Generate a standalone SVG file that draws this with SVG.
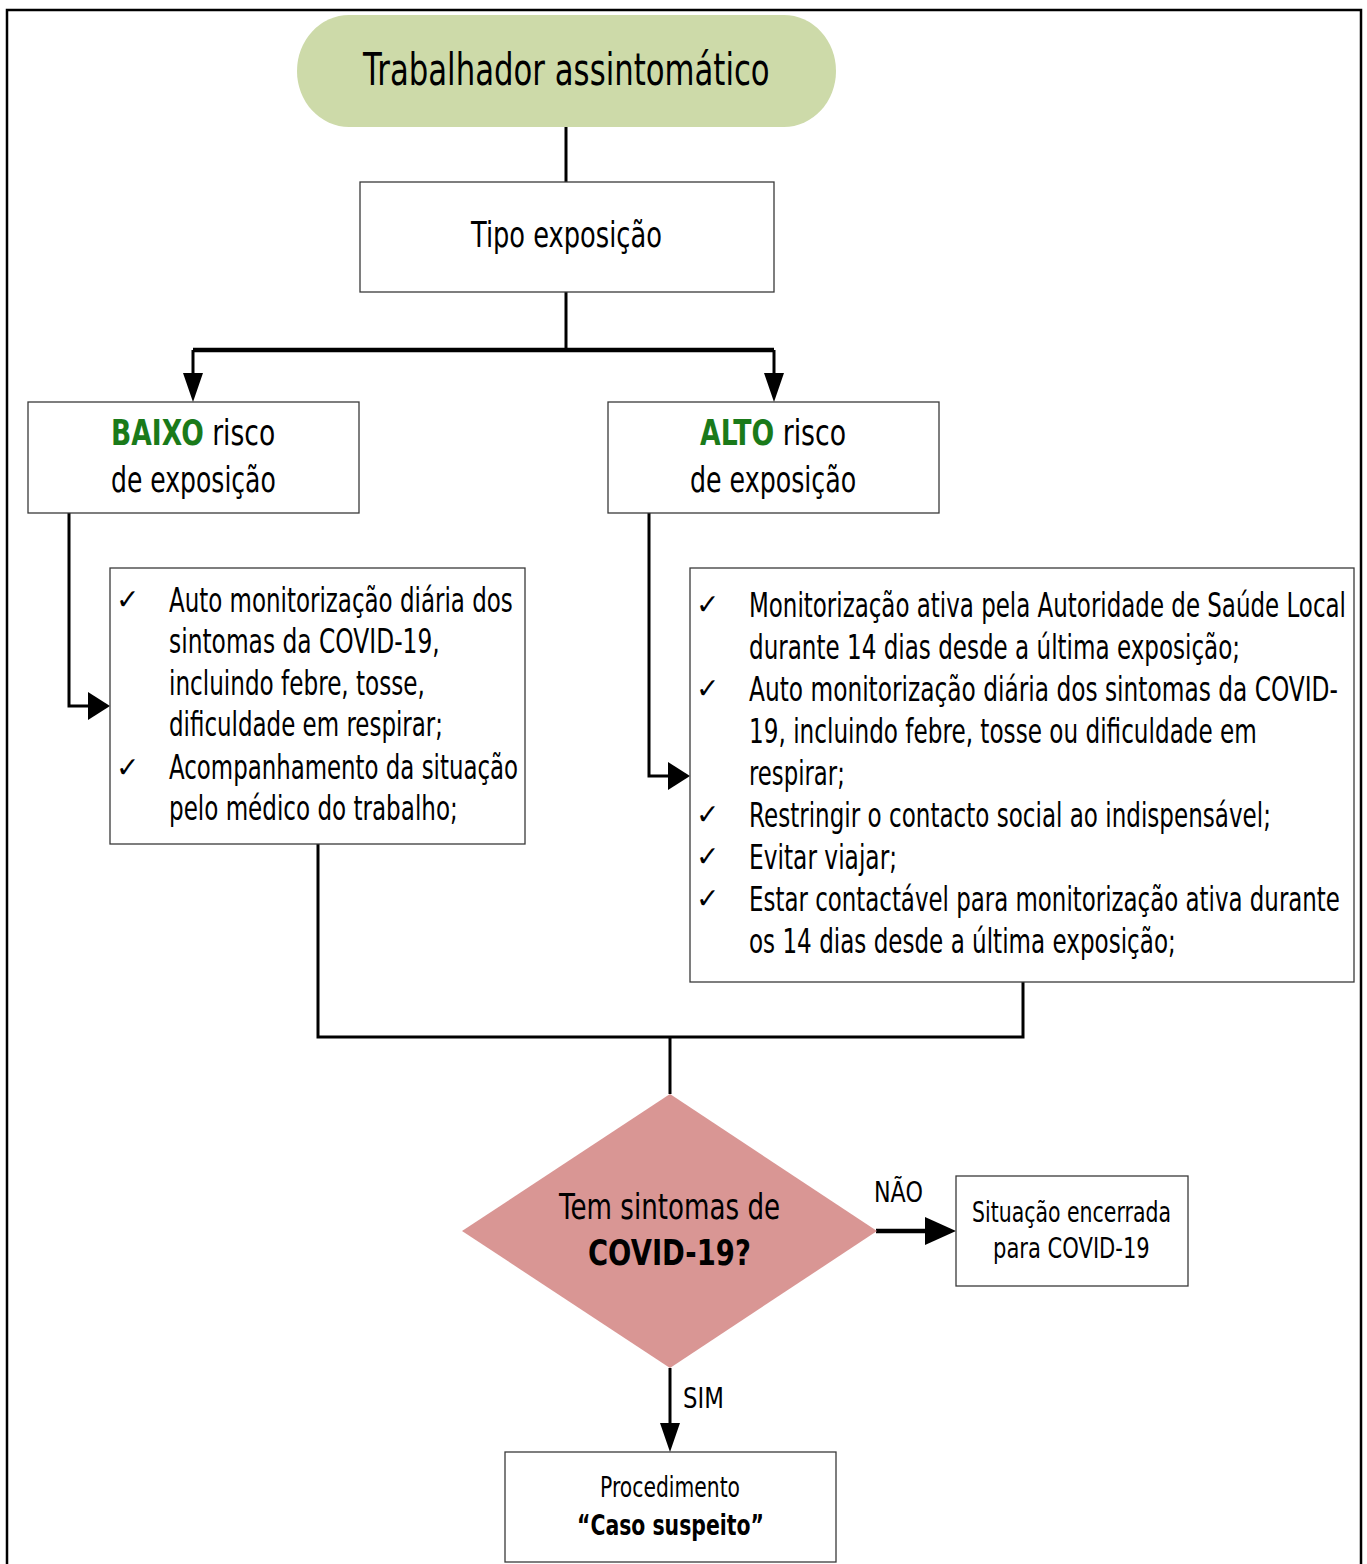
<svg xmlns="http://www.w3.org/2000/svg" width="1367" height="1564" viewBox="0 0 1367 1564">
<style>
.t{font-family:"DejaVu Sans","Liberation Sans",sans-serif;fill:#000;}
.b{font-weight:bold;}
.g{fill:#1a7a1a;}
.box{fill:#fff;stroke:#3a3a3a;stroke-width:1.3;}
.c{fill:none;stroke:#000;stroke-width:3;stroke-linejoin:miter;}
.cb{fill:none;stroke:#000;stroke-width:4.5;}
.ah{fill:#000;stroke:none;}
.ck{font-family:"DejaVu Sans",sans-serif;font-size:28px;fill:#000;}
.l{font-size:34px;}
</style>
<rect width="1367" height="1564" fill="#fff"/>
<rect id="frame" x="7" y="10" width="1354" height="1570" fill="none" stroke="#000" stroke-width="2.5"/>

<g id="connectors">
  <path class="c" d="M566 127V182"/>
  <path class="c" d="M566 292V350"/>
  <path class="cb" d="M193 350H774"/>
  <path class="c" d="M193 350V375"/>
  <path class="c" d="M774 350V375"/>
  <polygon class="ah" points="183,373 203,373 193,402"/>
  <polygon class="ah" points="764,373 784,373 774,402"/>
  <path class="c" d="M69 513V706H90"/>
  <polygon class="ah" points="88,692 110,706 88,720"/>
  <path class="c" d="M649 513V776H670"/>
  <polygon class="ah" points="668,762 690,776 668,790"/>
  <path class="c" d="M318 844V1037H1023V982"/>
  <path class="c" d="M670 1037V1094"/>
  <path class="cb" d="M876 1231H928"/>
  <polygon class="ah" points="925,1217 956,1231 925,1245"/>
  <path class="c" d="M670 1368V1425"/>
  <polygon class="ah" points="660,1423 680,1423 670,1452"/>
  <text class="t" transform="translate(874,1202) scale(0.67,1)" font-size="28" textLength="73" lengthAdjust="spacingAndGlyphs">NÃO</text>
  <text class="t" transform="translate(683,1408) scale(0.67,1)" font-size="28" textLength="61" lengthAdjust="spacingAndGlyphs">SIM</text>
</g>

<g id="n-start">
  <rect x="297" y="15" width="539" height="112" rx="52" ry="56" fill="#cddaa9"/>
  <text class="t" transform="translate(363,85) scale(0.67,1)" font-size="44" textLength="607" lengthAdjust="spacingAndGlyphs">Trabalhador assintomático</text>
</g>

<g id="n-tipo">
  <rect class="box" x="360" y="182" width="414" height="110"/>
  <text class="t" transform="translate(471,247) scale(0.67,1)" font-size="36" textLength="285" lengthAdjust="spacingAndGlyphs">Tipo exposição</text>
</g>

<g id="n-baixo">
  <rect class="box" x="28" y="402" width="331" height="111"/>
  <text class="t" transform="translate(111,445) scale(0.67,1)" font-size="36" textLength="245" lengthAdjust="spacingAndGlyphs"><tspan class="b g">BAIXO</tspan> risco</text>
  <text class="t" transform="translate(111,492) scale(0.67,1)" font-size="36" textLength="246" lengthAdjust="spacingAndGlyphs">de exposição</text>
</g>

<g id="n-alto">
  <rect class="box" x="608" y="402" width="331" height="111"/>
  <text class="t" transform="translate(700,445) scale(0.67,1)" font-size="36" textLength="218" lengthAdjust="spacingAndGlyphs"><tspan class="b g">ALTO</tspan> risco</text>
  <text class="t" transform="translate(690,492) scale(0.67,1)" font-size="36" textLength="248" lengthAdjust="spacingAndGlyphs">de exposição</text>
</g>

<g id="n-baixo-list">
  <rect class="box" x="110" y="568" width="415" height="276"/>
  <text class="ck" x="116" y="609">✓</text>
  <text class="ck" x="116" y="777">✓</text>
  <text class="t l" transform="translate(169,612) scale(0.67,1)" textLength="513" lengthAdjust="spacingAndGlyphs">Auto monitorização diária dos</text>
  <text class="t l" transform="translate(169,653) scale(0.67,1)" textLength="404" lengthAdjust="spacingAndGlyphs">sintomas da COVID-19,</text>
  <text class="t l" transform="translate(169,695) scale(0.67,1)" textLength="382" lengthAdjust="spacingAndGlyphs">incluindo febre, tosse,</text>
  <text class="t l" transform="translate(169,736) scale(0.67,1)" textLength="409" lengthAdjust="spacingAndGlyphs">dificuldade em respirar;</text>
  <text class="t l" transform="translate(169,779) scale(0.67,1)" textLength="521" lengthAdjust="spacingAndGlyphs">Acompanhamento da situação</text>
  <text class="t l" transform="translate(169,820) scale(0.67,1)" textLength="431" lengthAdjust="spacingAndGlyphs">pelo médico do trabalho;</text>
</g>

<g id="n-alto-list">
  <rect class="box" x="690" y="568" width="664" height="414"/>
  <text class="ck" x="696" y="614">✓</text>
  <text class="ck" x="696" y="698">✓</text>
  <text class="ck" x="696" y="824">✓</text>
  <text class="ck" x="696" y="866">✓</text>
  <text class="ck" x="696" y="908">✓</text>
  <text class="t l" transform="translate(749,617) scale(0.67,1)" textLength="891" lengthAdjust="spacingAndGlyphs">Monitorização ativa pela Autoridade de Saúde Local</text>
  <text class="t l" transform="translate(749,659) scale(0.67,1)" textLength="733" lengthAdjust="spacingAndGlyphs">durante 14 dias desde a última exposição;</text>
  <text class="t l" transform="translate(749,701) scale(0.67,1)" textLength="879" lengthAdjust="spacingAndGlyphs">Auto monitorização diária dos sintomas da COVID-</text>
  <text class="t l" transform="translate(749,743) scale(0.67,1)" textLength="758" lengthAdjust="spacingAndGlyphs">19, incluindo febre, tosse ou dificuldade em</text>
  <text class="t l" transform="translate(749,785) scale(0.67,1)" textLength="143" lengthAdjust="spacingAndGlyphs">respirar;</text>
  <text class="t l" transform="translate(749,827) scale(0.67,1)" textLength="779" lengthAdjust="spacingAndGlyphs">Restringir o contacto social ao indispensável;</text>
  <text class="t l" transform="translate(749,869) scale(0.67,1)" textLength="221" lengthAdjust="spacingAndGlyphs">Evitar viajar;</text>
  <text class="t l" transform="translate(749,911) scale(0.67,1)" textLength="882" lengthAdjust="spacingAndGlyphs">Estar contactável para monitorização ativa durante</text>
  <text class="t l" transform="translate(749,953) scale(0.67,1)" textLength="637" lengthAdjust="spacingAndGlyphs">os 14 dias desde a última exposição;</text>
</g>

<g id="n-decision">
  <polygon points="670,1094 877,1231 670,1368 462,1231" fill="#d99694"/>
  <text class="t" transform="translate(559,1219) scale(0.67,1)" font-size="35" textLength="330" lengthAdjust="spacingAndGlyphs">Tem sintomas de</text>
  <text class="t b" transform="translate(588,1265) scale(0.67,1)" font-size="35" textLength="243" lengthAdjust="spacingAndGlyphs">COVID-19?</text>
</g>

<g id="n-encerrada">
  <rect class="box" x="956" y="1176" width="232" height="110"/>
  <text class="t" transform="translate(972,1222) scale(0.67,1)" font-size="28" textLength="297" lengthAdjust="spacingAndGlyphs">Situação encerrada</text>
  <text class="t" transform="translate(993,1258) scale(0.67,1)" font-size="28" textLength="234" lengthAdjust="spacingAndGlyphs">para COVID-19</text>
</g>

<g id="n-caso">
  <rect class="box" x="505" y="1452" width="331" height="110"/>
  <text class="t" transform="translate(600,1497) scale(0.67,1)" font-size="28" textLength="209" lengthAdjust="spacingAndGlyphs">Procedimento</text>
  <text class="t b" transform="translate(577,1535) scale(0.67,1)" font-size="28" textLength="279" lengthAdjust="spacingAndGlyphs">“Caso suspeito”</text>
</g>
</svg>
